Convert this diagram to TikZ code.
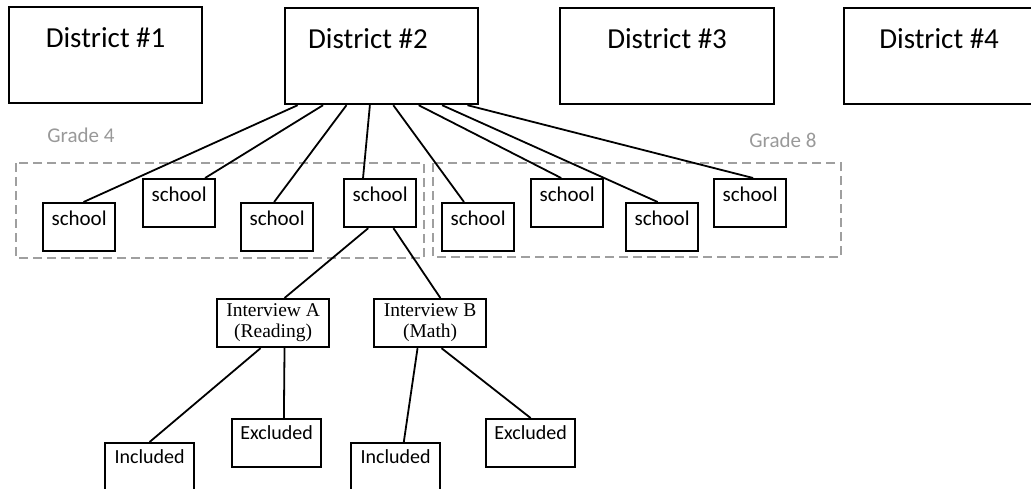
\documentclass[tikz,border=0pt]{standalone}
\usepackage{fontspec}
\setmainfont{Carlito}
\newfontfamily\timesfont{Liberation Serif}
\usetikzlibrary{calc}
\begin{document}
\begin{tikzpicture}[x=1pt, y=-1pt,
  box/.style={draw, line width=2.2pt, inner xsep=0pt, inner ysep=0pt, anchor=north west},
  district/.style={box, minimum width=193pt, text height=40pt, text depth=56pt, font=\fontsize{29}{32}\selectfont},
  school/.style={box, minimum width=72pt, text height=22pt, text depth=26pt, font=\fontsize{21}{24}\selectfont},
  interview/.style={box, minimum width=112pt, minimum height=48pt, align=center, font=\timesfont\fontsize{19.5}{21}\selectfont},
  outcome/.style={box, minimum width=89pt, text height=20pt, text depth=28pt, font=\fontsize{20}{22}\selectfont},
  grade/.style={draw=gray!75, line width=2pt, dash pattern=on 9pt off 5pt},
  gradelabel/.style={text=gray!80, font=\fontsize{21}{24}\selectfont},
  link/.style={line width=1.8pt}]
\clip (0,0) rectangle (1031,488);
\draw[grade] (16,163) rectangle (424,258);
\draw[grade] (433,163) rectangle (841,257);
\node[gradelabel] (g4) at (81,135) {Grade 4};
\node[gradelabel] (g8) at (783,140) {Grade 8};
\node[district] (d1) at (8,6) {District \#1};
\node[district, inner xsep=23pt, minimum width=0pt, text width=147pt, align=flush left] (d2) at (284,7) {District \#2};
\node[district, minimum width=214pt] (d3) at (559,7) {District \#3};
\node[district, minimum width=190pt] (d4) at (843,7) {District \#4};
\foreach \i/\x/\y in {1/42/202, 2/142/178, 3/240/202, 4/343/178, 5/441/202, 6/530/178, 7/625/202, 8/713/178}
  \node[school] (s\i) at (\x,\y) {school};
\foreach \s/\a/\b in {1/0.07/0.56, 2/0.20/0.85, 3/0.32/0.46, 4/0.44/0.27, 5/0.56/0.31, 6/0.69/0.42, 7/0.81/0.44, 8/0.94/0.54}
  \draw[link] ($(d2.south west)!\a!(d2.south east)$) -- ($(s\s.north west)!\b!(s\s.north east)$);
\node[interview] (ia) at (216,298) {Interview A\\(Reading)};
\node[interview] (ib) at (373,298) {Interview B\\(Math)};
\node[outcome] (inca) at (104,442) {Included};
\node[outcome] (exa) at (231,418) {Excluded};
\node[outcome] (incb) at (350,442) {Included};
\node[outcome] (exb) at (485,418) {Excluded};
\draw[link] ($(s4.south west)!0.34!(s4.south east)$) -- ($(ia.north west)!0.6!(ia.north east)$);
\draw[link] ($(s4.south west)!0.68!(s4.south east)$) -- ($(ib.north west)!0.59!(ib.north east)$);
\draw[link] ($(ia.south west)!0.39!(ia.south east)$) -- (inca.north);
\draw[link] ($(ia.south west)!0.6!(ia.south east)$) -- ($(exa.north west)!0.58!(exa.north east)$);
\draw[link] ($(ib.south west)!0.39!(ib.south east)$) -- ($(incb.north west)!0.59!(incb.north east)$);
\draw[link] ($(ib.south west)!0.6!(ib.south east)$) -- (exb.north);
\end{tikzpicture}
\end{document}
